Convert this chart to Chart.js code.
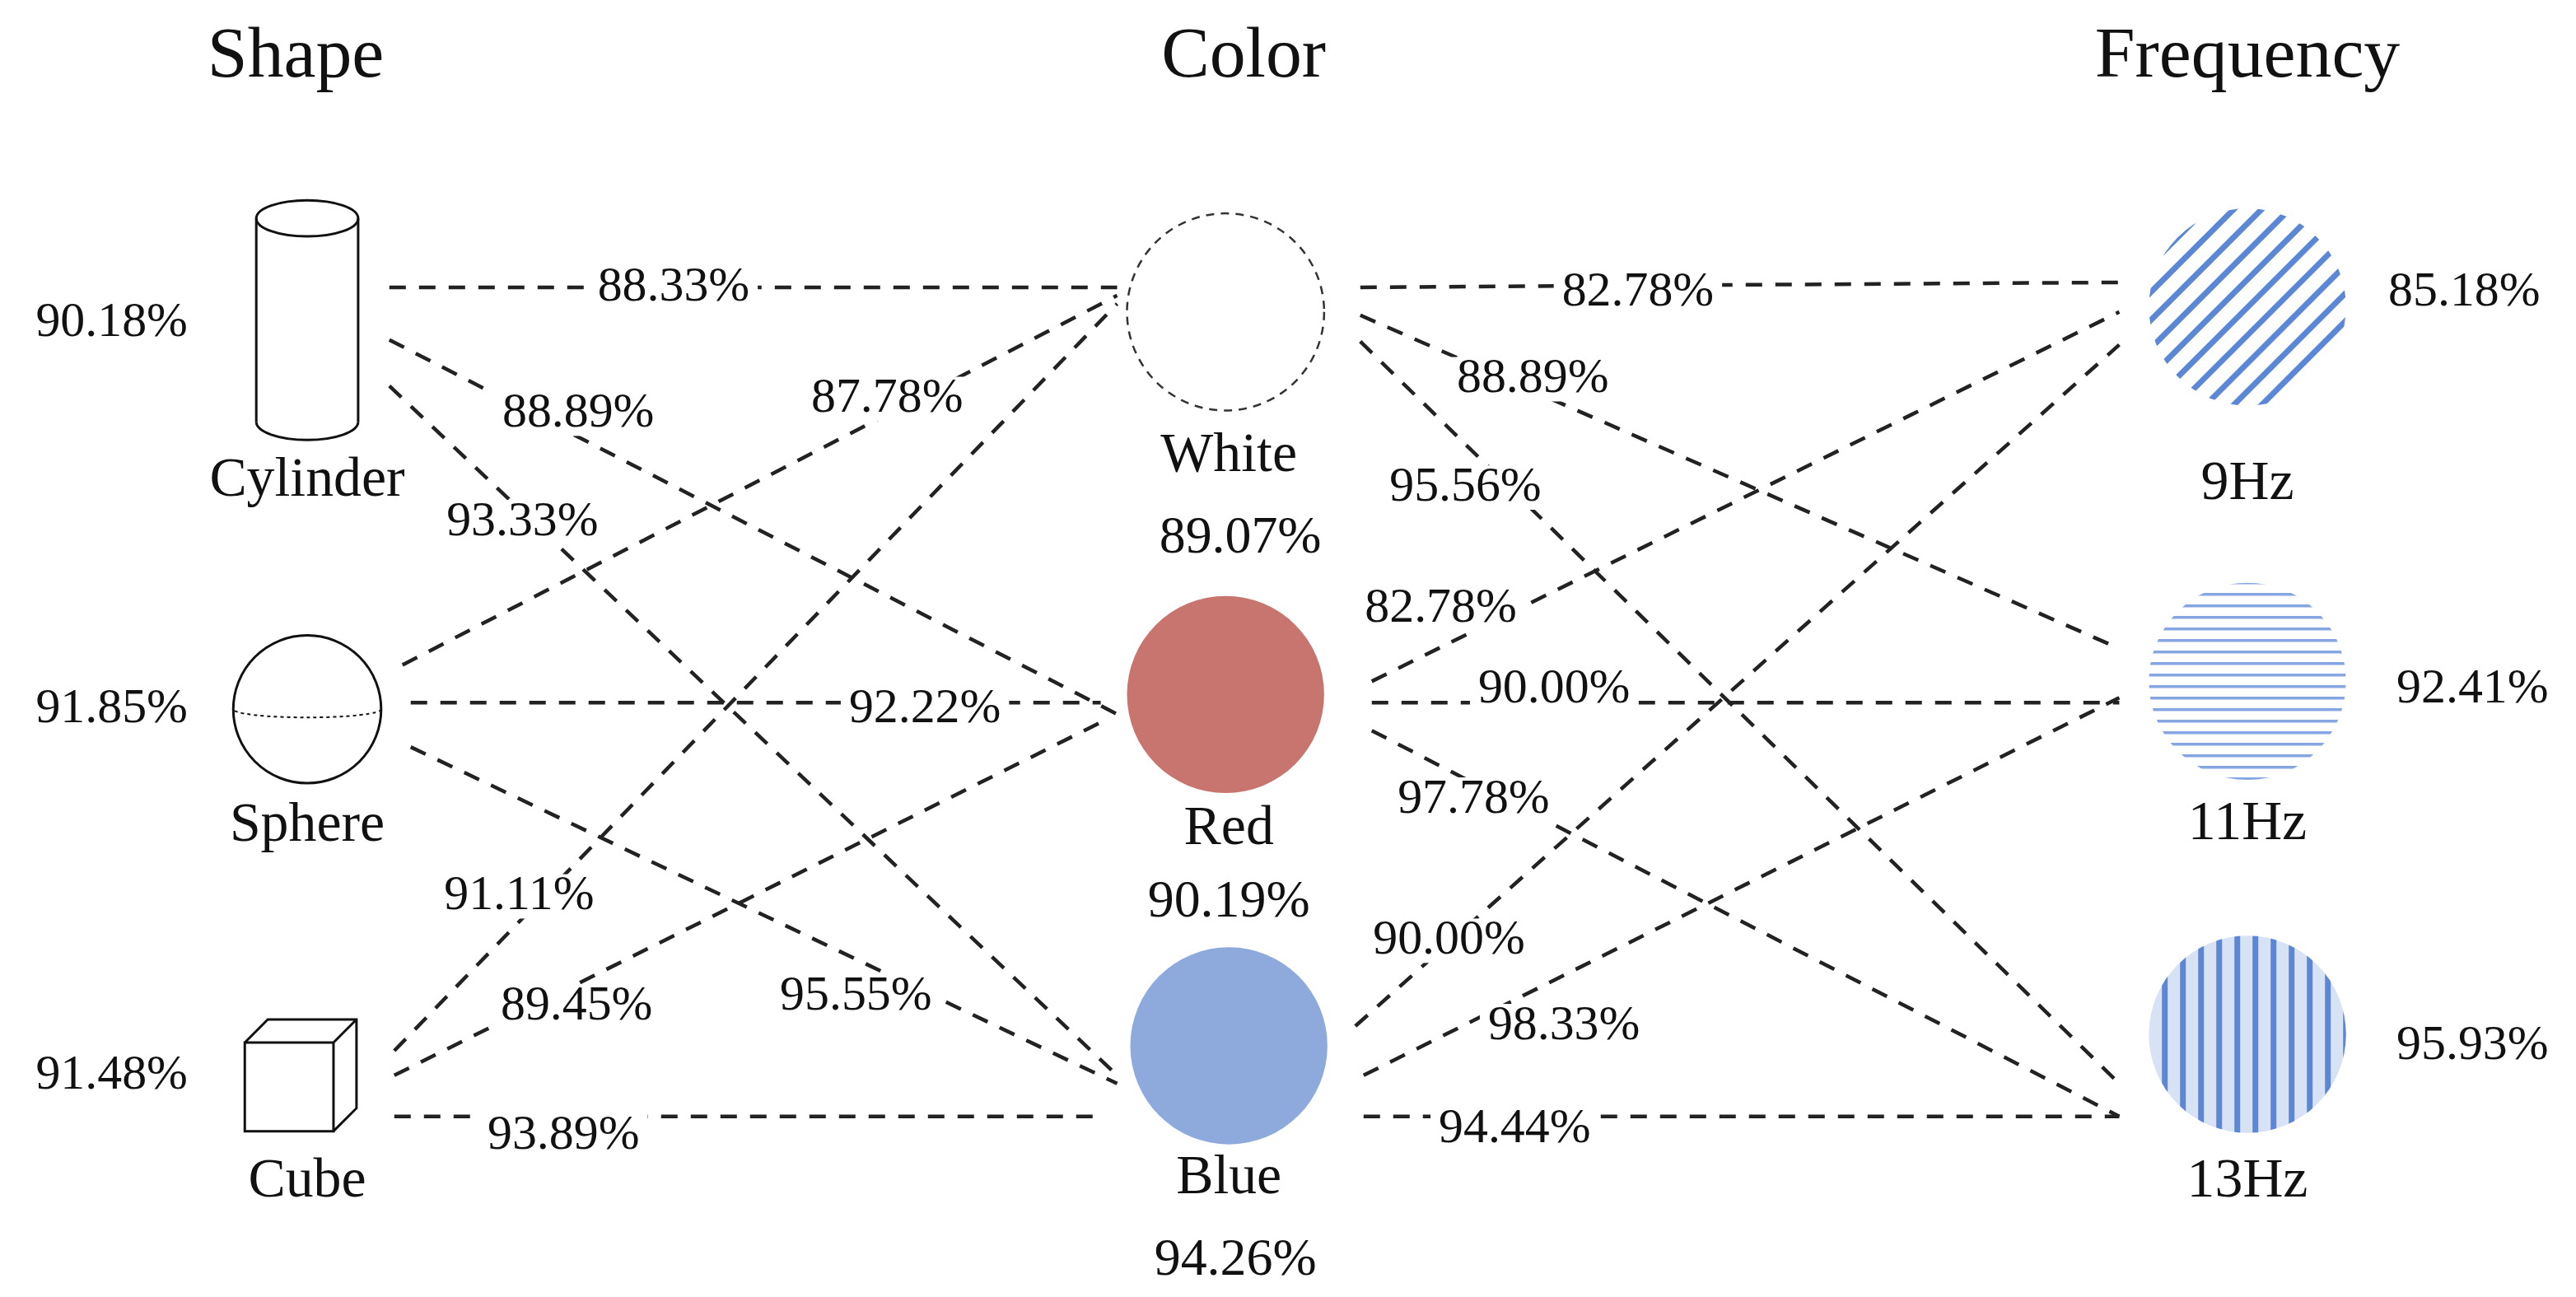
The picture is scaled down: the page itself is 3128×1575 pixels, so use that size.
<!DOCTYPE html>
<html>
<head>
<meta charset="utf-8">
<script src="https://cdn.jsdelivr.net/npm/chart.js@4"></script>
<style>
  html, body { margin: 0; padding: 0; background: #fff; }
  canvas { display: block; }
</style>
</head>
<body>
<canvas id="c" width="3128" height="1575"></canvas>
<script>
// data
const columnTitles = ['Shape', 'Color', 'Frequency'];
const shapeNames = ['Cylinder', 'Sphere', 'Cube'];
const shapeAcc = ['90.18%', '91.85%', '91.48%'];
const colorNames = ['White', 'Red', 'Blue'];
const colorAcc = ['89.07%', '90.19%', '94.26%'];
const freqNames = ['9Hz', '11Hz', '13Hz'];
const freqAcc = ['85.18%', '92.41%', '95.93%'];
// rows: shape, cols: color
const shapeColorAcc = [
  ['88.33%', '88.89%', '93.33%'],
  ['87.78%', '92.22%', '95.55%'],
  ['91.11%', '89.45%', '93.89%']
];
// rows: color, cols: frequency
const colorFreqAcc = [
  ['82.78%', '88.89%', '95.56%'],
  ['82.78%', '90.00%', '97.78%'],
  ['90.00%', '98.33%', '94.44%']
];

// layout (picture units, 1568 x 790)
const W = 1568, H = 790, K = 3128 / 1568;
const shapePos = [[187, 195], [187, 432], [183, 655]];
const colorPos = [[746, 190], [746, 423], [748, 637]];
const freqPos = [[1368, 187], [1368, 415], [1368, 630]];
const R = 60;
const shapeLinks = [ // [x1,y1,x2,y2,labelX,labelY]
  [[237,175,680,175,410,175], [237,207,680,435,352,252], [237,235,680,655,318,318]],
  [[245,405,680,180,540,243], [250,428,670,428,563,432], [250,455,680,660,521,607]],
  [[240,640,680,185,316,546], [240,655,670,440,351,613], [240,680,670,680,343,692]]
];
const freqLinks = [
  [[828,175,1290,172,997,178], [828,192,1290,395,933,231], [828,208,1290,660,892,297]],
  [[835,415,1290,190,877,371], [835,428,1290,428,946,420], [835,445,1290,680,897,487]],
  [[825,625,1290,210,882,573], [830,655,1290,425,952,625], [830,680,1290,680,922,688]]
];

const datasets = [];
const linkLabels = [];
function addLinks(links, acc) {
  links.forEach((row, i) => row.forEach((l, j) => {
    datasets.push({
      data: [{x: l[0], y: l[1]}, {x: l[2], y: l[3]}],
      showLine: true, borderColor: '#222', borderWidth: 4.5,
      borderDash: [20, 16], pointRadius: 0, fill: false
    });
    linkLabels.push([l[4], l[5], acc[i][j]]);
  }));
}
addLinks(shapeLinks, shapeColorAcc);
addLinks(freqLinks, colorFreqAcc);

const SERIF = '"Liberation Serif", "DejaVu Serif", serif';

const diagram = {
  id: 'diagram',
  afterDatasetsDraw(chart) {
    const ctx = chart.ctx, sx = chart.scales.x, sy = chart.scales.y;
    const px = v => sx.getPixelForValue(v), py = v => sy.getPixelForValue(v);
    const text = (t, x, y, size, bg) => {
      ctx.font = `${size * K}px ${SERIF}`;
      ctx.textAlign = 'center'; ctx.textBaseline = 'middle';
      if (bg) {
        const w = ctx.measureText(t).width;
        ctx.fillStyle = '#fff';
        ctx.fillRect(px(x) - w / 2 - 10, py(y) - size * K * 0.45, w + 20, size * K * 0.9);
      }
      ctx.fillStyle = '#111';
      ctx.fillText(t, px(x), py(y));
    };
    ctx.save();
    linkLabels.forEach(l => text(l[2], l[0], l[1], 30, true));

    ctx.lineWidth = 3; ctx.strokeStyle = '#111';
    // cylinder
    let [cx, cy] = shapePos[0];
    const cw = 31 * K, ch = 11 * K, top = py(cy - 62), bot = py(cy + 62);
    ctx.beginPath(); ctx.ellipse(px(cx), top, cw, ch, 0, 0, Math.PI * 2); ctx.stroke();
    ctx.beginPath(); ctx.moveTo(px(cx) - cw, top); ctx.lineTo(px(cx) - cw, bot);
    ctx.moveTo(px(cx) + cw, top); ctx.lineTo(px(cx) + cw, bot); ctx.stroke();
    ctx.beginPath(); ctx.ellipse(px(cx), bot, cw, ch, 0, 0, Math.PI); ctx.stroke();
    // sphere
    [cx, cy] = shapePos[1];
    ctx.beginPath(); ctx.arc(px(cx), py(cy), 45 * K, 0, Math.PI * 2); ctx.stroke();
    ctx.beginPath(); ctx.ellipse(px(cx), py(cy), 45 * K, 5 * K, 0, 0, Math.PI);
    ctx.lineWidth = 2; ctx.setLineDash([4, 4]); ctx.stroke(); ctx.setLineDash([]); ctx.lineWidth = 3;
    // cube
    [cx, cy] = shapePos[2];
    const s = 54 * K, d = 14 * K, x0 = px(cx) - s / 2 - d / 2, y0 = py(cy) - s / 2 + d / 2;
    ctx.beginPath(); ctx.rect(x0, y0, s, s);
    ctx.moveTo(x0, y0); ctx.lineTo(x0 + d, y0 - d); ctx.lineTo(x0 + s + d, y0 - d);
    ctx.lineTo(x0 + s + d, y0 + s - d); ctx.lineTo(x0 + s, y0 + s);
    ctx.moveTo(x0 + s, y0); ctx.lineTo(x0 + s + d, y0 - d); ctx.stroke();

    // color circles
    const rr = R * K;
    ctx.beginPath(); ctx.arc(px(colorPos[0][0]), py(colorPos[0][1]), rr, 0, Math.PI * 2);
    ctx.fillStyle = '#fff'; ctx.fill();
    ctx.lineWidth = 2.5; ctx.setLineDash([10, 8]); ctx.strokeStyle = '#333'; ctx.stroke(); ctx.setLineDash([]);
    [['#c9756f', 1], ['#8eaadc', 2]].forEach(([c, i]) => {
      ctx.beginPath(); ctx.arc(px(colorPos[i][0]), py(colorPos[i][1]), rr, 0, Math.PI * 2);
      ctx.fillStyle = c; ctx.fill();
    });

    // frequency hatched circles
    const hatch = [[Math.PI / 4 * -1, 24, 7, '#5b87d6'], [0, 14, 3.5, '#86a6e2'], [Math.PI / 2, 22, 7, '#5b87d6']];
    freqPos.forEach((p, i) => {
      const [ang, gap, lw, col] = hatch[i];
      const X = px(p[0]), Y = py(p[1]);
      ctx.save();
      ctx.beginPath(); ctx.arc(X, Y, rr, 0, Math.PI * 2);
      ctx.fillStyle = i === 2 ? '#d7e2f5' : '#fff'; ctx.fill(); ctx.clip();
      ctx.translate(X, Y); ctx.rotate(ang);
      ctx.strokeStyle = col; ctx.lineWidth = lw;
      ctx.beginPath();
      for (let o = -rr; o <= rr; o += gap) { ctx.moveTo(-rr, o); ctx.lineTo(rr, o); }
      ctx.stroke();
      ctx.restore();
    });

    // titles and node labels
    text(columnTitles[0], 180, 35, 44);
    text(columnTitles[1], 757, 35, 44);
    text(columnTitles[2], 1368, 35, 44);
    const nameY = [[293, 503, 720], [278, 505, 718], [295, 502, 720]];
    const accXY = [
      [[68, 197], [68, 432], [68, 655]],
      [[755, 328], [748, 550], [752, 768]],
      [[1500, 178], [1505, 420], [1505, 637]]
    ];
    [shapeNames, colorNames, freqNames].forEach((names, c) => names.forEach((n, i) => {
      const x = c === 0 ? 187 : c === 1 ? 748 : 1368;
      text(n, x, nameY[c][i], 34);
    }));
    [shapeAcc, colorAcc, freqAcc].forEach((acc, c) => acc.forEach((a, i) => {
      text(a, accXY[c][i][0], accXY[c][i][1], c === 1 ? 32 : 30);
    }));
    ctx.restore();
  }
};

new Chart(document.getElementById('c'), {
  type: 'scatter',
  data: { datasets },
  options: {
    responsive: false, animation: false, devicePixelRatio: 1,
    layout: { padding: 0 },
    plugins: { legend: { display: false }, tooltip: { enabled: false } },
    scales: {
      x: { type: 'linear', min: 0, max: W, display: false },
      y: { type: 'linear', min: 0, max: H, reverse: true, display: false }
    }
  },
  plugins: [diagram]
});
</script>
</body>
</html>
